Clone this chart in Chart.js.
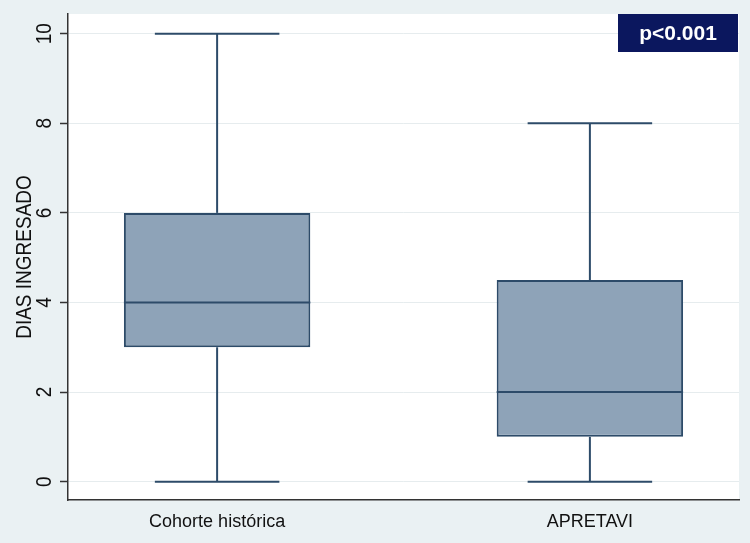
<!DOCTYPE html>
<html>
<head>
<meta charset="utf-8">
<script src="https://cdn.jsdelivr.net/npm/chart.js@4.4.0/dist/chart.umd.min.js"></script>
<style>
  html, body { margin: 0; padding: 0; background: #eaf1f3; }
  #wrap { width: 750px; height: 543px; }
</style>
</head>
<body>
<div id="wrap"><canvas id="c" width="750" height="543"></canvas></div>
<script>
// ---- data ----
const categories = ['Cohorte histórica', 'APRETAVI'];
const whiskerMin = [0, 0];
const q1 = [3, 1];
const median = [4, 2];
const q3 = [6, 4.5];
const whiskerMax = [10, 8];
const yTicks = [0, 2, 4, 6, 8, 10];
const yTitle = 'DIAS INGRESADO';
const pLabel = 'p<0.001';

// ---- styles ----
const FONT = "'Liberation Sans', Arial, sans-serif";
const boxFill = '#8ea3b8';
const boxLine = '#2d4b69';
const boxHalf = 0.25;
const capHalf = 0.167;

const xs = categories.map((c, i) => i + 1);

const segDatasets = [];
function seg(x1, y1, x2, y2) {
  segDatasets.push({
    type: 'line',
    data: [{x: x1, y: y1}, {x: x2, y: y2}],
    borderColor: boxLine,
    borderWidth: 2,
    pointRadius: 0,
    pointHoverRadius: 0,
    fill: false,
    order: 1
  });
}
xs.forEach((x, i) => {
  seg(x, whiskerMin[i], x, q1[i]);
  seg(x, q3[i], x, whiskerMax[i]);
  seg(x - capHalf, whiskerMin[i], x + capHalf, whiskerMin[i]);
  seg(x - capHalf, whiskerMax[i], x + capHalf, whiskerMax[i]);
  seg(x - boxHalf, median[i], x + boxHalf, median[i]);
});

function rotText(ctx, text, x, y, stretch) {
  ctx.save();
  ctx.translate(x, y);
  ctx.rotate(-Math.PI / 2);
  ctx.scale(1, stretch);
  ctx.fillText(text, 0, 0);
  ctx.restore();
}

const bgPlugin = {
  id: 'bg',
  beforeDraw(chart) {
    const {ctx, chartArea: a} = chart;
    ctx.save();
    ctx.fillStyle = '#eaf1f3';
    ctx.fillRect(0, 0, chart.width, chart.height);
    ctx.fillStyle = '#ffffff';
    ctx.fillRect(a.left, a.top, a.right - a.left, a.bottom - a.top);
    ctx.restore();
  },
  afterDraw(chart) {
    const {ctx, chartArea: a} = chart;
    const ys = chart.scales.y;
    ctx.save();
    ctx.fillStyle = '#111111';
    ctx.textAlign = 'center';
    ctx.textBaseline = 'middle';
    // rotated y tick labels
    ctx.font = '19px ' + FONT;
    ys.ticks.forEach(t => {
      rotText(ctx, String(t.value), ys.right - 23, ys.getPixelForValue(t.value), 1.2);
    });
    // rotated y title
    ctx.font = '19px ' + FONT;
    rotText(ctx, yTitle, 25, (ys.top + ys.bottom) / 2, 1.2);
    // p-value label
    const w = 120, h = 38;
    ctx.fillStyle = '#0b175e';
    ctx.fillRect(a.right - w - 1, a.top, w, h);
    ctx.fillStyle = '#ffffff';
    ctx.font = 'bold 21px ' + FONT;
    ctx.fillText(pLabel, a.right - 1 - w / 2, a.top + h / 2 + 1);
    ctx.restore();
  }
};

new Chart(document.getElementById('c'), {
  type: 'bar',
  data: {
    datasets: [
      {
        type: 'bar',
        data: xs.map((x, i) => ({x: x, y: [q1[i], q3[i]]})),
        backgroundColor: boxFill,
        borderColor: boxLine,
        borderWidth: 2,
        borderSkipped: false,
        barPercentage: boxHalf * 2,
        categoryPercentage: 1,
        order: 2
      },
      ...segDatasets
    ]
  },
  options: {
    responsive: false,
    animation: false,
    events: [],
    layout: { padding: { left: 0, right: 11, top: 14, bottom: 0 } },
    plugins: { legend: { display: false }, tooltip: { enabled: false }, title: { display: false } },
    scales: {
      x: {
        type: 'linear',
        min: 0.6,
        max: 2.4,
        offset: false,
        afterBuildTicks(scale) { scale.ticks = xs.map(v => ({value: v})); },
        afterFit(scale) { scale.height = 43; },
        grid: { display: true, color: 'transparent', drawTicks: false, offset: false },
        border: { display: true, color: '#333333', width: 1.5 },
        ticks: {
          padding: 11,
          color: '#111111',
          font: { family: FONT, size: 18 },
          callback(v) { const i = xs.indexOf(v); return i >= 0 ? categories[i] : ''; },
          maxRotation: 0,
          autoSkip: false
        }
      },
      y: {
        type: 'linear',
        min: -0.41,
        max: 10.44,
        afterBuildTicks(scale) { scale.ticks = yTicks.map(v => ({value: v})); },
        afterFit(scale) { scale.width = 68; },
        grid: { color: '#e6ecee', lineWidth: 1, drawTicks: true, tickLength: 8, tickColor: '#333333', tickWidth: 1.5 },
        border: { display: true, color: '#333333', width: 1.5 },
        ticks: { display: false },
        title: { display: false }
      }
    }
  },
  plugins: [bgPlugin]
});
</script>
</body>
</html>
